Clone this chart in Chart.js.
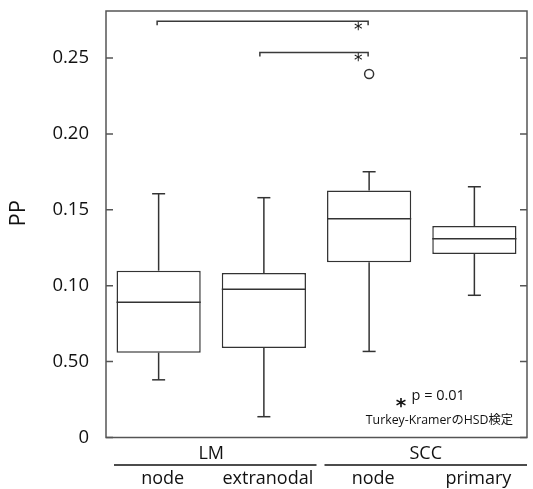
<!DOCTYPE html>
<html>
<head>
<meta charset="utf-8">
<script src="https://cdn.jsdelivr.net/npm/chart.js@4.4.1/dist/chart.umd.min.js"></script>
<style>
  html, body { margin: 0; padding: 0; background: #fff; }
  #wrap { width: 533px; height: 489px; }
</style>
</head>
<body>
<div id="wrap"><canvas id="chart"></canvas></div>
<script>
// data
const categories = ['node', 'extranodal', 'node', 'primary'];
const groups = ['LM', 'SCC'];
const groupSpans = [[0, 1], [2, 3]];
const whiskerLow = [0.0380, 0.0137, 0.0567, 0.0937];
const q1 = [0.0559, 0.0590, 0.1154, 0.1209];
const median = [0.0891, 0.0976, 0.1441, 0.1310];
const q3 = [0.1099, 0.1084, 0.1628, 0.1393];
const whiskerHigh = [0.1606, 0.1580, 0.1751, 0.1652];
const outliers = [null, null, 0.2395, null];
const yTickLabels = ['0', '0.50', '0.10', '0.15', '0.20', '0.25'];
const comparisons = [[0, 2, 0.2742], [1, 2, 0.2537]];

const INK = '#111';
const LINE = '#333';
const FONT = '"Open Sans", sans-serif';

const boxExtras = {
    id: 'boxExtras',
    afterDatasetsDraw(chart) {
        const { ctx, chartArea: area, scales } = chart;
        const x = scales.x, y = scales.y;
        const meta = chart.getDatasetMeta(0);
        ctx.save();
        ctx.lineWidth = 1.5;
        ctx.strokeStyle = LINE;

        // medians and whiskers
        meta.data.forEach((bar, i) => {
            const cx = bar.x, half = bar.width / 2;
            const line = (x1, y1, x2, y2) => {
                ctx.beginPath(); ctx.moveTo(x1, y1); ctx.lineTo(x2, y2); ctx.stroke();
            };
            const ym = y.getPixelForValue(median[i]);
            line(cx - half, ym, cx + half, ym);
            const yh = y.getPixelForValue(whiskerHigh[i]);
            const yl = y.getPixelForValue(whiskerLow[i]);
            line(cx, y.getPixelForValue(q3[i]), cx, yh);
            line(cx - 6.5, yh, cx + 6.5, yh);
            line(cx, y.getPixelForValue(q1[i]), cx, yl);
            line(cx - 6.5, yl, cx + 6.5, yl);
        });

        // frame + inward ticks
        ctx.strokeStyle = '#555';
        ctx.strokeRect(area.left, area.top, area.right - area.left, area.bottom - area.top);
        y.ticks.forEach(t => {
            const py = y.getPixelForValue(t.value);
            ctx.beginPath();
            ctx.moveTo(area.left, py); ctx.lineTo(area.left + 7, py);
            ctx.moveTo(area.right - 7, py); ctx.lineTo(area.right, py);
            ctx.stroke();
        });

        // significance brackets
        ctx.strokeStyle = '#3a3a3a';
        ctx.fillStyle = INK;
        comparisons.forEach(([a, b, v], k) => {
            const xa = x.getPixelForValue(a) - (k === 0 ? 1.5 : 4);
            const xb = x.getPixelForValue(b) - 1;
            const py = y.getPixelForValue(v);
            ctx.beginPath();
            ctx.moveTo(xa, py + 4); ctx.lineTo(xa, py); ctx.lineTo(xb, py); ctx.lineTo(xb, py + 4);
            ctx.stroke();
            ctx.font = '17px "DejaVu Sans"';
            ctx.textAlign = 'center';
            ctx.textBaseline = 'alphabetic';
            ctx.fillText('*', xb - 10, py + 13.7);
        });

        // note
        ctx.font = 'bold 20px "DejaVu Sans"';
        ctx.textAlign = 'center';
        ctx.fillText('*', 401, 412);
        ctx.font = '14.5px ' + FONT;
        ctx.textAlign = 'left';
        ctx.fillText('p = 0.01', 411.5, 400);
        ctx.font = '12.3px "Open Sans", "Noto Sans CJK JP", sans-serif';
        ctx.textAlign = 'right';
        ctx.fillText('Turkey-KramerのHSD検定', area.right - 14, 424);

        // group labels under the axis
        ctx.font = '18px ' + FONT;
        ctx.textAlign = 'center';
        ctx.textBaseline = 'middle';
        ctx.strokeStyle = '#111';
        groups.forEach((g, k) => {
            const [s, e] = groupSpans[k];
            const step = x.getPixelForValue(1) - x.getPixelForValue(0);
            const left = x.getPixelForValue(s) - step / 2 + 8;
            const right = x.getPixelForValue(e) + step / 2;
            const mid = (x.getPixelForValue(s) + x.getPixelForValue(e)) / 2 + (k === 0 ? 0 : 4);
            ctx.fillText(g, mid, 454);
            ctx.beginPath(); ctx.moveTo(left, 465); ctx.lineTo(right, 465); ctx.stroke();
        });

        // y title
        ctx.save();
        ctx.translate(18.5, (area.top + area.bottom) / 2 - 11);
        ctx.rotate(-Math.PI / 2);
        ctx.font = '22px ' + FONT;
        ctx.fillText('PP', 0, 0);
        ctx.restore();

        ctx.restore();
    }
};

new Chart(document.getElementById('chart'), {
    type: 'bar',
    data: {
        labels: categories,
        datasets: [
            {
                data: q1.map((v, i) => [v, q3[i]]),
                backgroundColor: '#fff',
                borderColor: LINE,
                borderWidth: 1.5,
                borderSkipped: false,
                barPercentage: 0.8,
                categoryPercentage: 1.0,
                order: 2
            },
            {
                type: 'line',
                data: outliers,
                showLine: false,
                pointRadius: 4.5,
                pointBorderWidth: 1.5,
                pointBackgroundColor: '#fff',
                pointBorderColor: LINE,
                order: 1
            }
        ]
    },
    options: {
        responsive: true,
        maintainAspectRatio: false,
        animation: false,
        devicePixelRatio: 1,
        layout: { padding: { top: 11, right: 3, left: 0, bottom: 0 } },
        plugins: { legend: { display: false }, tooltip: { enabled: false } },
        scales: {
            x: {
                grid: { display: false },
                border: { display: false },
                ticks: {
                    color: INK,
                    font: { family: 'Open Sans', size: 18 },
                    padding: 23,
                    labelOffset: 4,
                    maxRotation: 0,
                    autoSkip: false
                },
                afterFit: s => {
                    s.height = 51.5;
                    s.paddingLeft = 0; s.paddingRight = 0;
                }
            },
            y: {
                min: 0,
                max: 0.281,
                grid: { display: false, drawTicks: false },
                border: { display: false },
                ticks: {
                    stepSize: 0.05,
                    includeBounds: false,
                    padding: 17,
                    color: INK,
                    font: { family: 'Open Sans', size: 18.5 },
                    callback: (v, i) => yTickLabels[i]
                },
                afterFit: s => {
                    s.width = 106;
                    s.paddingTop = 0; s.paddingBottom = 0;
                }
            }
        }
    },
    plugins: [boxExtras]
});
</script>
</body>
</html>
